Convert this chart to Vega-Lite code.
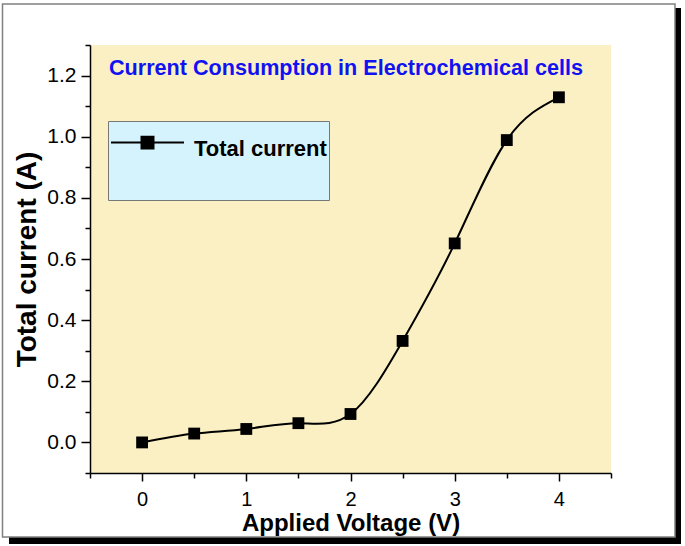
{
  "$schema": "https://vega.github.io/schema/vega-lite/v6.json",
  "width": 521,
  "height": 428,
  "autosize": {"type": "none"},
  "padding": {"left": 90, "top": 45, "right": 74, "bottom": 73},
  "background": "white",
  "config": {
    "view": {"fill": "#FAF0C4", "stroke": null},
    "font": "Liberation Sans",
    "axis": {"domainColor": "black", "domainWidth": 1.5, "tickColor": "black", "tickWidth": 1.5, "labelColor": "black", "titleColor": "black", "grid": false}
  },
  "data": {
    "values": [
      {"voltage": 0.0, "current": 0.0, "series": "Total current"},
      {"voltage": 0.5, "current": 0.029, "series": "Total current"},
      {"voltage": 1.0, "current": 0.044, "series": "Total current"},
      {"voltage": 1.5, "current": 0.063, "series": "Total current"},
      {"voltage": 2.0, "current": 0.093, "series": "Total current"},
      {"voltage": 2.5, "current": 0.332, "series": "Total current"},
      {"voltage": 3.0, "current": 0.651, "series": "Total current"},
      {"voltage": 3.5, "current": 0.989, "series": "Total current"},
      {"voltage": 4.0, "current": 1.129, "series": "Total current"}
    ]
  },
  "resolve": {"axis": {"x": "independent", "y": "independent"}},
  "layer": [
    {
      "data": {"values": [{"part": "shadow right"}]},
      "mark": {"type": "rect", "fill": "black"},
      "encoding": {
        "x": {"datum": 5.1142, "type": "quantitative", "scale": {"domain": [-0.5, 4.5], "nice": false, "zero": false}, "axis": null},
        "x2": {"datum": 5.1718},
        "y": {"datum": 1.421, "type": "quantitative", "scale": {"domain": [-0.1, 1.3], "nice": false, "zero": false}, "axis": null},
        "y2": {"datum": -0.3322}
      }
    },
    {
      "data": {"values": [{"part": "shadow bottom"}]},
      "mark": {"type": "rect", "fill": "black"},
      "encoding": {
        "x": {"datum": -1.2774, "type": "quantitative", "axis": null},
        "x2": {"datum": 5.1718},
        "y": {"datum": -0.3093, "type": "quantitative", "axis": null},
        "y2": {"datum": -0.3322}
      }
    },
    {
      "data": {"values": [{"part": "frame"}]},
      "mark": {"type": "rect", "filled": false, "stroke": "#808080", "strokeWidth": 1.5},
      "encoding": {
        "x": {"datum": -1.3397, "type": "quantitative", "axis": null},
        "x2": {"datum": 5.1142},
        "y": {"datum": 1.4341, "type": "quantitative", "axis": null},
        "y2": {"datum": -0.3093}
      }
    },
    {
      "data": {"values": [{"label": "Current Consumption in Electrochemical cells"}]},
      "mark": {"type": "text", "align": "left", "baseline": "alphabetic", "font": "Liberation Sans", "fontWeight": "bold", "fontSize": 21.6, "color": "#1212F0"},
      "encoding": {
        "x": {"datum": -0.3177, "type": "quantitative", "axis": null},
        "y": {"datum": 1.2019, "type": "quantitative", "axis": null},
        "text": {"field": "label"}
      }
    },
    {
      "mark": {"type": "line", "interpolate": "natural", "strokeWidth": 2},
      "encoding": {
        "x": {"field": "voltage", "type": "quantitative",
          "axis": {"orient": "bottom", "values": [-0.5, 0.5, 1.5, 2.5, 3.5, 4.5], "tickSize": 5, "labels": false, "domain": false, "title": null}},
        "y": {"field": "current", "type": "quantitative",
          "axis": {"orient": "left", "values": [-0.1, 0.1, 0.3, 0.5, 0.7, 0.9, 1.1, 1.3], "tickSize": 5, "labels": false, "domain": false, "title": null}},
        "color": {"field": "series", "type": "nominal",
          "scale": {"domain": ["Total current"], "range": ["black"]},
          "legend": {"orient": "none", "legendX": 18, "legendY": 76, "title": null,
            "fillColor": "#D5F3FC", "strokeColor": "#777777", "padding": 2,
            "symbolType": "M-1,-0.49H1M-0.164,-0.654H0.164V-0.326H-0.164ZM0,0.9",
            "symbolSize": 5329, "symbolStrokeWidth": 2, "symbolFillColor": "black", "symbolStrokeColor": "black",
            "labelFont": "Liberation Sans", "labelFontSize": 22, "labelFontWeight": "bold", "labelColor": "black",
            "labelOffset": 9, "labelBaseline": "bottom", "labelLimit": 300}}
      }
    },
    {
      "mark": {"type": "point", "shape": "square", "filled": true, "size": 140, "color": "black", "opacity": 1},
      "encoding": {
        "x": {"field": "voltage", "type": "quantitative",
          "axis": {"orient": "bottom", "values": [0, 1, 2, 3, 4], "format": "d", "tickSize": 8, "labelPadding": 8,
            "labelFont": "Liberation Sans", "labelFontSize": 20, "labelFontWeight": "normal",
            "title": "Applied Voltage (V)", "titleFont": "Liberation Sans", "titleFontSize": 24, "titleFontWeight": "bold", "titlePadding": 2}},
        "y": {"field": "current", "type": "quantitative",
          "axis": {"orient": "left", "values": [0, 0.2, 0.4, 0.6, 0.8, 1.0, 1.2], "format": ".1f", "tickSize": 9, "labelPadding": 5,
            "labelFont": "Liberation Sans", "labelFontSize": 21, "labelFontWeight": "normal",
            "title": "Total current (A)", "titleFont": "Liberation Sans", "titleFontSize": 28, "titleFontWeight": "bold", "titlePadding": 5}}
      }
    }
  ]
}
